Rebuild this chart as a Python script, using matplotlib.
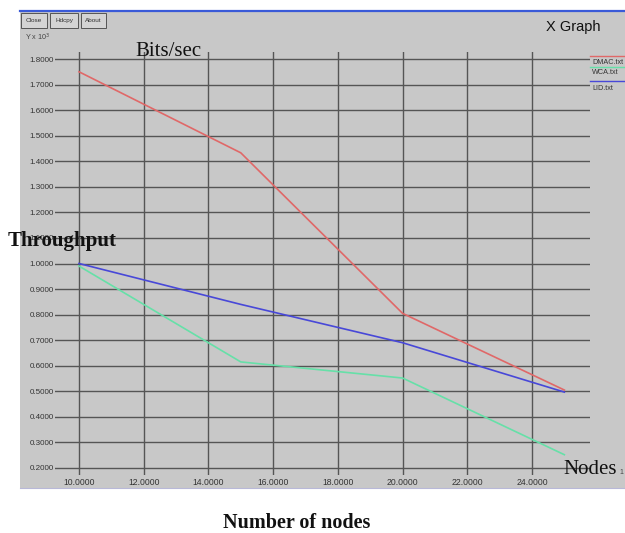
import matplotlib
matplotlib.use("Agg")
import matplotlib.pyplot as plt
from matplotlib.patches import Rectangle
from matplotlib.lines import Line2D

# ---- data ----
nodes_dmac = [10, 15, 20, 25]
dmac = [1.75, 1.433, 0.805, 0.505]
nodes_wca = [10, 15, 20, 25]
wca = [0.99, 0.615, 0.552, 0.252]
nodes_lid = [10, 15, 20, 25]
lid = [1.0, 0.84, 0.69, 0.497]

xticks = [10, 12, 14, 16, 18, 20, 22, 24]
yticks = [0.2, 0.3, 0.4, 0.5, 0.6, 0.7, 0.8, 0.9, 1.0, 1.1, 1.2, 1.3, 1.4, 1.5, 1.6, 1.7, 1.8]
series_names = ["DMAC.txt", "WCA.txt", "LID.txt"]
series_colors = ["#e06868", "#66e0a8", "#4848d8"]

W, H = 625, 533
fig = plt.figure(figsize=(W / 100, H / 100), dpi=100)
fig.patch.set_facecolor("white")

def fx(px):
    return px / W

def fy(py):
    return 1 - py / H

# gray window panel
panel_col = "#c8c8c8"
fig.patches.append(Rectangle((fx(20), fy(488)), fx(625) - fx(20), fy(11) - fy(488),
                             transform=fig.transFigure, facecolor=panel_col,
                             edgecolor="none", zorder=0))
# blue title bar line
fig.add_artist(Line2D([fx(20), 1.0], [fy(10.5), fy(10.5)], transform=fig.transFigure,
                      color="#3a5ad8", lw=1.6))
# bottom light line
fig.add_artist(Line2D([fx(20), 1.0], [fy(488), fy(488)], transform=fig.transFigure,
                      color="#b8b8d8", lw=0.8))

# buttons
for label, x0, x1 in [("Close", 21, 47), ("Hdcpy", 50, 78), ("About", 81, 106)]:
    fig.patches.append(Rectangle((fx(x0), fy(28)), fx(x1) - fx(x0), fy(13) - fy(28),
                                 transform=fig.transFigure, facecolor="#d4d4d4",
                                 edgecolor="#555555", lw=0.7, zorder=1))
    fig.text(fx((x0 + x1) / 2), fy(20.5), label, fontsize=4.6, ha="center", va="center",
             family="Liberation Sans", color="#333333")

fig.text(fx(25), fy(37), r"Y x 10$^3$", fontsize=5.2, ha="left", va="center",
         family="Liberation Sans", color="#444444")
fig.text(fx(573), fy(27), "X Graph", fontsize=10.5, ha="center", va="center",
         family="Liberation Sans", color="#111111")

# axes
x0p, x1p, y0p, y1p = 55, 590, 52, 475
ax = fig.add_axes([fx(x0p), fy(y1p), fx(x1p) - fx(x0p), fy(y0p) - fy(y1p)])
ax.set_zorder(2)
ax.set_facecolor("none")
px_per_x = (532 - 79) / 14.0
px_per_y = (468 - 59) / 1.6
ax.set_xlim(10 - (79 - x0p) / px_per_x, 10 + (x1p - 79) / px_per_x)
ax.set_ylim(0.2 - (y1p - 468) / px_per_y, 1.8 + (59 - y0p) / px_per_y)
for s in ax.spines.values():
    s.set_visible(False)
ax.set_xticks(xticks)
ax.set_yticks(yticks)
ax.set_xticklabels([f"{v:.4f}" for v in xticks], fontsize=6.2, family="Liberation Sans",
                   color="#333333")
ax.set_yticklabels([f"{v:.4f}" for v in yticks], fontsize=5.8, family="Liberation Sans",
                   color="#333333")
ax.tick_params(length=0, pad=2)
ax.tick_params(axis="y", pad=1)
ax.grid(True, color="#555555", lw=1.0)
ax.set_axisbelow(True)

for xs, ys, c in [(nodes_dmac, dmac, series_colors[0]), (nodes_wca, wca, series_colors[1]),
                  (nodes_lid, lid, series_colors[2])]:
    ax.plot(xs, ys, color=c, lw=1.2, zorder=3)

# legend (xgraph style)
leg_y = [(56, 61), (67, 72), (81, 87)]
for (ly, ty), name, c in zip(leg_y, series_names, series_colors):
    fig.add_artist(Line2D([fx(590), 1.0], [fy(ly), fy(ly)], transform=fig.transFigure,
                          color=c, lw=1.0))
    fig.text(fx(592), fy(ty + 1), name, fontsize=5.2, ha="left", va="center",
             family="Liberation Sans", color="#333333")

# annotations
fig.text(fx(135), fy(51), "Bits/sec", fontsize=15, ha="left", va="center",
         family="Liberation Serif", color="#111111", zorder=5)
fig.text(fx(8), fy(241), "Throughput", fontsize=15, ha="left", va="center",
         family="Liberation Serif", weight="bold", color="#111111", zorder=5)
fig.text(fx(563), fy(469), "Nodes", fontsize=15, ha="left", va="center",
         family="Liberation Serif", color="#111111", zorder=5)
fig.text(fx(619), fy(472), "1", fontsize=5, ha="left", va="center",
         family="Liberation Sans", color="#444444")
fig.text(fx(297), fy(523), "Number of nodes", fontsize=14.5, ha="center", va="center",
         family="Liberation Serif", weight="bold", color="#111111")

fig.savefig("out.png", dpi=100)
